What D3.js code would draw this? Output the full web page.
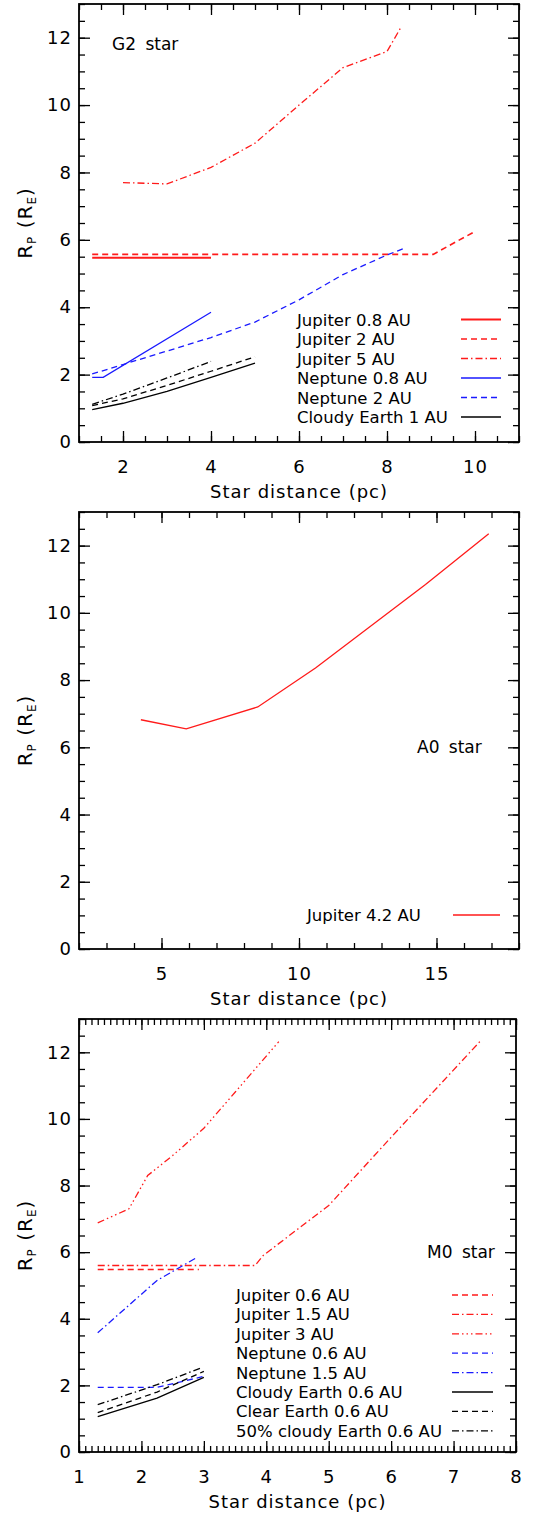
<!DOCTYPE html>
<html>
<head>
<meta charset="utf-8">
<script src="https://cdn.jsdelivr.net/npm/d3@7"></script>
<style>
body { margin: 0; background: #fff; }
svg text { font-family: "DejaVu Sans", sans-serif; fill: #000; }
</style>
</head>
<body>
<svg width="543" height="1515"></svg>
<script>
// ---- G2 star (bovenste paneel) ----
var g2XTicks = [2, 4, 6, 8, 10];
var g2Jup08 = [[1.3, 5.47], [4.0, 5.47]];
var g2Jup2 = [[1.3, 5.57], [9.05, 5.57], [10.0, 6.25]];
var g2Jup5 = [[2, 7.7], [3, 7.66], [4, 8.15], [5, 8.87], [6, 10.0], [7, 11.11], [8, 11.59], [8.3, 12.27]];
var g2Nep08 = [[1.3, 1.92], [1.55, 1.92], [4.0, 3.85]];
var g2Nep2 = [[1.3, 2.02], [2, 2.3], [3, 2.7], [4, 3.1], [5, 3.56], [6, 4.22], [7, 4.97], [8, 5.55], [8.43, 5.77]];
var g2Cloudy = [[1.3, 0.96], [2, 1.15], [3, 1.5], [4, 1.92], [5, 2.34]];
var g2Clear = [[1.3, 1.08], [2, 1.28], [3, 1.68], [4, 2.1], [5, 2.53]];
var g2Half = [[1.3, 1.12], [2, 1.42], [3, 1.9], [4, 2.39]];
var g2Legend = ["Jupiter 0.8 AU", "Jupiter 2 AU", "Jupiter 5 AU", "Neptune 0.8 AU", "Neptune 2 AU", "Cloudy Earth 1 AU"];

// ---- A0 star ----
var a0XTicks = [5, 10, 15];
var a0Jup42 = [[4.25, 6.82], [5.9, 6.55], [8.5, 7.2], [10.6, 8.36], [14.6, 10.84], [16.9, 12.35]];
var a0Legend = ["Jupiter 4.2 AU"];

// ---- M0 star ----
var m0XTicks = [1, 2, 3, 4, 5, 6, 7, 8];
var m0Jup06 = [[1.3, 5.48], [2.92, 5.48]];
var m0Jup15 = [[1.3, 5.6], [3.82, 5.6], [3.95, 5.9], [5.0, 7.4], [6.0, 9.45], [7.42, 12.32]];
var m0Jup3 = [[1.3, 6.88], [1.8, 7.3], [2.1, 8.3], [2.5, 8.9], [3.0, 9.72], [3.5, 10.8], [4.2, 12.32]];
var m0Nep06 = [[1.3, 1.94], [2.25, 1.94], [3.0, 2.27]];
var m0Nep15 = [[1.3, 3.58], [2.25, 5.15], [2.87, 5.82]];
var m0Cloudy = [[1.3, 1.06], [2.25, 1.62], [3.0, 2.24]];
var m0Clear = [[1.3, 1.18], [2.25, 1.8], [3.0, 2.42]];
var m0Half = [[1.3, 1.42], [2.25, 2.02], [2.95, 2.52]];
var m0Legend = ["Jupiter 0.6 AU", "Jupiter 1.5 AU", "Jupiter 3 AU", "Neptune 0.6 AU", "Neptune 1.5 AU",
  "Cloudy Earth 0.6 AU", "Clear Earth 0.6 AU", "50% cloudy Earth 0.6 AU"];

var yTicks = [0, 2, 4, 6, 8, 10, 12];

var RED = "#ff1a1a", BLUE = "#1a1aff", BLACK = "#000";
var dash = {solid: null, dash: "6,4", dashdot: "7,3,1.5,3", dash3dot: "7,3,1.5,3,1.5,3,1.5,3"};

var svg = d3.select("svg");
var left = 79;

function drawPanel(p) {
  var x = d3.scaleLinear().domain(p.xDom).range([left, p.right]);
  var y = d3.scaleLinear().domain([0, 13]).range([p.bottom, p.top]);
  var g = svg.append("g");
  var fmt = d3.format("d");

  // kleine streepjes (minor ticks) op alle vier de zijden
  g.append("g").attr("transform", "translate(0," + p.bottom + ")")
    .call(d3.axisBottom(x).tickValues(p.minorX).tickSize(-6).tickSizeOuter(0).tickFormat(""));
  g.append("g").attr("transform", "translate(0," + p.top + ")")
    .call(d3.axisTop(x).tickValues(p.minorX).tickSize(-6).tickSizeOuter(0).tickFormat(""));
  g.append("g").attr("transform", "translate(" + left + ",0)")
    .call(d3.axisLeft(y).tickValues(d3.range(0, 13.01, 0.5)).tickSize(-6).tickSizeOuter(0).tickFormat(""));
  g.append("g").attr("transform", "translate(" + p.right + ",0)")
    .call(d3.axisRight(y).tickValues(d3.range(0, 13.01, 0.5)).tickSize(-6).tickSizeOuter(0).tickFormat(""));

  // grote streepjes met labels
  g.append("g").attr("transform", "translate(0," + p.bottom + ")")
    .call(d3.axisBottom(x).tickValues(p.xTicks).tickSize(-11).tickSizeOuter(0).tickPadding(18).tickFormat(fmt));
  g.append("g").attr("transform", "translate(0," + p.top + ")")
    .call(d3.axisTop(x).tickValues(p.xTicks).tickSize(-11).tickSizeOuter(0).tickFormat(""));
  g.append("g").attr("transform", "translate(" + left + ",0)")
    .call(d3.axisLeft(y).tickValues(yTicks).tickSize(-11).tickSizeOuter(0).tickPadding(7).tickFormat(fmt));
  g.append("g").attr("transform", "translate(" + p.right + ",0)")
    .call(d3.axisRight(y).tickValues(yTicks).tickSize(-11).tickSizeOuter(0).tickFormat(""));

  g.selectAll(".domain").remove();
  g.selectAll(".tick line").attr("stroke", "#000").attr("stroke-width", 1.3);
  g.selectAll(".tick text").attr("font-family", "DejaVu Sans").attr("font-size", 18)
    .attr("letter-spacing", 1).attr("fill", "#000");

  g.append("rect")
    .attr("x", left).attr("y", p.top)
    .attr("width", p.right - left).attr("height", p.bottom - p.top)
    .attr("fill", "none").attr("stroke", "#000").attr("stroke-width", 1.8);

  var line = d3.line().x(function(d) { return x(d[0]); }).y(function(d) { return y(d[1]); });

  p.series.forEach(function(s) {
    g.append("path")
      .datum(s.data)
      .attr("d", line)
      .attr("fill", "none")
      .attr("stroke", s.color)
      .attr("stroke-width", s.w || 1.3)
      .attr("stroke-dasharray", dash[s.style]);
  });

  // legenda
  p.legend.forEach(function(txt, i) {
    var s = p.series[i];
    var cy = p.legY + i * p.legStep;
    g.append("text").attr("x", p.legX).attr("y", cy + 6).attr("font-size", 16.5).text(txt);
    g.append("line")
      .attr("x1", p.legL1).attr("x2", p.legL2).attr("y1", cy).attr("y2", cy)
      .attr("stroke", s.color).attr("stroke-width", s.w || 1.3)
      .attr("stroke-dasharray", dash[s.style]);
  });

  g.append("text").attr("x", p.starX).attr("y", p.starY).attr("font-size", 17)
    .attr("word-spacing", 4).text(p.star);

  // astitels
  g.append("text")
    .attr("x", (left + p.right) / 2).attr("y", p.bottom + 56)
    .attr("text-anchor", "middle").attr("font-size", 18).attr("letter-spacing", 1)
    .text("Star distance (pc)");

  var yt = g.append("text")
    .attr("transform", "translate(32," + ((p.top + p.bottom) / 2) + ") rotate(-90)")
    .attr("text-anchor", "middle").attr("font-size", 20).attr("letter-spacing", 1);
  yt.append("tspan").text("R");
  yt.append("tspan").attr("font-size", 12).attr("dy", 4).text("P");
  yt.append("tspan").attr("dy", -4).text("\u00a0(R");
  yt.append("tspan").attr("font-size", 12).attr("dy", 4).text("E");
  yt.append("tspan").attr("dy", -4).text(")");
}

drawPanel({
  top: 4, bottom: 442, right: 519,
  xDom: [1, 11], xTicks: g2XTicks, minorX: d3.range(1, 11.01, 0.5),
  series: [
    {data: g2Jup08, color: RED, style: "solid", w: 2},
    {data: g2Jup2, color: RED, style: "dash", w: 1.6},
    {data: g2Jup5, color: RED, style: "dashdot"},
    {data: g2Nep08, color: BLUE, style: "solid"},
    {data: g2Nep2, color: BLUE, style: "dash"},
    {data: g2Cloudy, color: BLACK, style: "solid"},
    {data: g2Clear, color: BLACK, style: "dash"},
    {data: g2Half, color: BLACK, style: "dashdot"}
  ],
  legend: g2Legend, legX: 297, legY: 319.5, legStep: 19.5, legL1: 461, legL2: 501,
  star: "G2 star", starX: 112, starY: 50
});

drawPanel({
  top: 512, bottom: 949, right: 519,
  xDom: [2, 18], xTicks: a0XTicks, minorX: d3.range(2, 18.01, 1),
  series: [
    {data: a0Jup42, color: RED, style: "solid"}
  ],
  legend: a0Legend, legX: 307, legY: 915, legStep: 19.5, legL1: 453, legL2: 500,
  star: "A0 star", starX: 417, starY: 753
});

drawPanel({
  top: 1019, bottom: 1452, right: 516,
  xDom: [1, 8], xTicks: m0XTicks, minorX: d3.range(1, 8.001, 0.1),
  series: [
    {data: m0Jup06, color: RED, style: "dash", w: 1.6},
    {data: m0Jup15, color: RED, style: "dashdot"},
    {data: m0Jup3, color: RED, style: "dash3dot"},
    {data: m0Nep06, color: BLUE, style: "dash"},
    {data: m0Nep15, color: BLUE, style: "dashdot"},
    {data: m0Cloudy, color: BLACK, style: "solid"},
    {data: m0Clear, color: BLACK, style: "dash"},
    {data: m0Half, color: BLACK, style: "dashdot"}
  ],
  legend: m0Legend, legX: 236, legY: 1295, legStep: 19.4, legL1: 452, legL2: 493,
  star: "M0 star", starX: 427, starY: 1258
});
</script>
</body>
</html>
